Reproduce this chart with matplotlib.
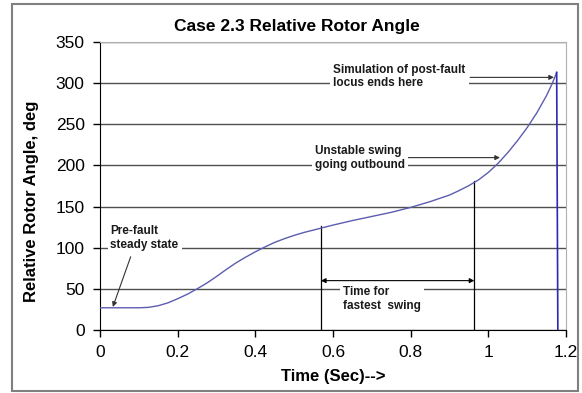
import matplotlib
matplotlib.use("Agg")
import matplotlib.pyplot as plt
from matplotlib.patches import Rectangle

plt.rcParams['font.family'] = ['Liberation Sans', 'DejaVu Sans']

# Data
time_s = [0, 0.05, 0.1, 0.125, 0.15, 0.175, 0.2, 0.225, 0.25, 0.275, 0.3,
          0.325, 0.35, 0.375, 0.4, 0.425, 0.45, 0.475, 0.5, 0.525, 0.55,
          0.575, 0.6, 0.65, 0.7, 0.75, 0.8, 0.85, 0.9, 0.925, 0.95, 0.975,
          1.0, 1.025, 1.05, 1.075, 1.1, 1.125, 1.15, 1.165, 1.176, 1.179]
angle_deg = [27, 27, 27, 27.5, 29.5, 33, 38, 43.5, 50, 57, 65,
             73.5, 81.5, 88.5, 95, 101, 106.5, 111, 115, 118.5, 121.5,
             124.5, 127.5, 133, 138, 143, 149, 156, 164, 169.5, 175.5, 182.5,
             191.5, 202.5, 215.5, 230, 246, 264, 285, 300, 313, 0]
x_ticks = [0, 0.2, 0.4, 0.6, 0.8, 1.0, 1.2]
x_tick_labels = ['0', '0.2', '0.4', '0.6', '0.8', '1', '1.2']
y_ticks = [0, 50, 100, 150, 200, 250, 300, 350]
fast_start, fast_end = 0.569, 0.964
fast_start_angle, fast_end_angle = 126, 181

fig = plt.figure(figsize=(5.82, 3.93), dpi=100)
ax = fig.add_axes([100/582, 1-330/393, 466/582, 288/393])

ax.set_xlim(0, 1.2)
ax.set_ylim(0, 350)
ax.set_xticks(x_ticks)
ax.set_xticklabels(x_tick_labels)
ax.set_yticks(y_ticks)
ax.tick_params(axis='both', labelsize=12.5, length=5, width=1, direction='out',
               colors='black', pad=6)
ax.yaxis.grid(True, color='#505050', lw=1.0)
ax.set_axisbelow(True)
for s in ['top', 'right']:
    ax.spines[s].set_color('#b0b0b0')
for s in ['left', 'bottom']:
    ax.spines[s].set_color('black')

# main curve and end drop
ax.plot(time_s[:-1], angle_deg[:-1], color='#5c5cb0', lw=1.0, zorder=3)
ax.plot(time_s[-2:], angle_deg[-2:], color='#2a2ab4', lw=1.2, zorder=3)

# fastest swing markers
ax.plot([fast_start, fast_start], [0, fast_start_angle], color='black', lw=0.9, zorder=2)
ax.plot([fast_end, fast_end], [0, fast_end_angle], color='black', lw=0.9, zorder=2)
ax.annotate('', xy=(fast_start, 60), xytext=(fast_end, 60),
            arrowprops=dict(arrowstyle='<|-|>', color='black', lw=0.8,
                            mutation_scale=7, shrinkA=0, shrinkB=0))

bb = dict(boxstyle='square,pad=0.25', fc='white', ec='none')
tk = dict(fontsize=8.5, fontweight='bold', color='#1a1a1a', zorder=4,
          linespacing=1.2, bbox=bb)

ax.text(0.626, 53, 'Time for\nfastest  swing', ha='left', va='top', **tk)

ax.text(0.027, 112, 'Pre-fault\nsteady state', ha='left', va='center', **tk)
ax.annotate('', xy=(0.033, 28), xytext=(0.079, 89),
            arrowprops=dict(arrowstyle='-|>', color='#333333', lw=0.8,
                            mutation_scale=7, shrinkA=0, shrinkB=0))

ax.text(0.554, 209, 'Unstable swing\ngoing outbound', ha='left', va='center', **tk)
ax.annotate('', xy=(1.030, 209.5), xytext=(0.793, 209.5),
            arrowprops=dict(arrowstyle='-|>', color='#333333', lw=0.8,
                            mutation_scale=7, shrinkA=0, shrinkB=0))

ax.text(0.601, 308, 'Simulation of post-fault\nlocus ends here', ha='left', va='center', **tk)
ax.annotate('', xy=(1.169, 307), xytext=(0.953, 307),
            arrowprops=dict(arrowstyle='-|>', color='#333333', lw=0.8,
                            mutation_scale=7, shrinkA=0, shrinkB=0))

fig.text(297/582, 1-27/393, 'Case 2.3 Relative Rotor Angle', ha='center', va='center',
         fontsize=12.5, fontweight='bold')
fig.text(333/582, 1-377/393, 'Time (Sec)-->', ha='center', va='center',
         fontsize=12, fontweight='bold')
fig.text(32/582, 1-201/393, 'Relative Rotor Angle, deg', ha='center', va='center',
         rotation=90, fontsize=12, fontweight='bold')

fig.patches.append(Rectangle((12/582, 1-391/393), 566/582, 387/393,
                             transform=fig.transFigure, fill=False,
                             ec='#808080', lw=1.5))

fig.savefig('out.png', dpi=100)
